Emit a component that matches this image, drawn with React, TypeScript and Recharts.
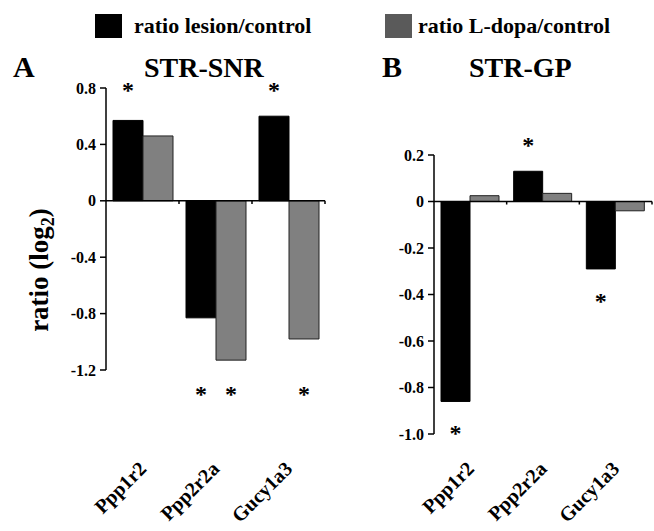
import { Bar, BarChart, LabelList, ReferenceLine, XAxis, YAxis } from "recharts";

const FONT = "'Liberation Serif', 'Times New Roman', serif";
const TEXT_STYLE = { fontFamily: FONT, fontWeight: 700 };

// log2 ratios
const genes = ["Ppp1r2", "Ppp2r2a", "Gucy1a3"];
const snrLesion = [0.57, -0.83, 0.6];
const snrLdopa = [0.46, -1.13, -0.98];
const snrLesionSig = [true, true, true];
const snrLdopaSig = [false, true, true];
const gpLesion = [-0.86, 0.13, -0.29];
const gpLdopa = [0.025, 0.035, -0.04];
const gpLesionSig = [true, true, true];
const gpLdopaSig = [false, false, false];
const snrTicks = [0.8, 0.4, 0, -0.4, -0.8, -1.2];
const gpTicks = [0.2, 0, -0.2, -0.4, -0.6, -0.8, -1.0];
const edges = [1, 2, 3];

const LABEL_Y = 470;

type PanelProps = {
  lesion: number[];
  ldopa: number[];
  lesionSig: boolean[];
  ldopaSig: boolean[];
  ticks: number[];
  width: number;
  top: number;
  bottom: number;
  right: number;
  axisWidth: number;
  markDepth: number;
  fixedStars: boolean;
};

function fmtTick(v: number) {
  return v === 0 ? "0" : v.toFixed(1);
}

function GeneTick(props: any) {
  const { x, payload } = props;
  const ax = x + 5;
  return (
    <text
      x={ax}
      y={LABEL_Y}
      transform={`rotate(-45 ${ax} ${LABEL_Y})`}
      textAnchor="end"
      fontSize={20}
      fill="#000"
      style={TEXT_STYLE}
    >
      {payload.value}
    </text>
  );
}

/** Asterisque de significativité, au-dessus ou au-dessous de la barre. */
function Star(props: any) {
  const { x, y, width, height, value, index, values, fixed, top, bottom } = props;
  if (!value) return null;
  const v = values[index];
  const cx = x + width / 2;
  const hi = Math.min(y, y + height);
  const lo = Math.max(y, y + height);
  let cy: number;
  if (fixed) cy = v >= 0 ? top - 2 : bottom + 20;
  else cy = v >= 0 ? hi - 30 : lo + 28;
  return (
    <text x={cx} y={cy + 12} textAnchor="middle" fontSize={24} fill="#000" style={TEXT_STYLE}>
      *
    </text>
  );
}

function Panel(p: PanelProps) {
  const rows = genes.map((gene, i) => ({
    gene,
    pos: i + 0.5,
    lesion: p.lesion[i],
    ldopa: p.ldopa[i],
    lesionSig: p.lesionSig[i] ? "*" : "",
    ldopaSig: p.ldopaSig[i] ? "*" : "",
  }));
  const lo = p.ticks[p.ticks.length - 1];
  const hi = p.ticks[0];
  const plotBottom = 531 - p.bottom;

  return (
    <BarChart
      width={p.width}
      height={531}
      data={rows}
      margin={{ top: p.top, right: p.right, bottom: 0, left: 0 }}
      barCategoryGap={7}
      barGap={0}
      style={{ fontFamily: FONT }}
    >
      <XAxis
        dataKey="gene"
        height={p.bottom}
        axisLine={false}
        tickLine={false}
        interval={0}
        tick={<GeneTick />}
      />
      <XAxis
        xAxisId="edge"
        dataKey="pos"
        type="number"
        domain={[0, 3]}
        allowDataOverflow
        hide
      />
      <YAxis
        domain={[lo, hi]}
        ticks={p.ticks}
        interval={0}
        allowDataOverflow
        width={p.axisWidth}
        tickSize={6}
        tickMargin={4}
        tickFormatter={fmtTick}
        axisLine={{ stroke: "#000", strokeWidth: 1.5 }}
        tickLine={{ stroke: "#000", strokeWidth: 1.5 }}
        tick={{ fill: "#000", fontSize: 16, style: TEXT_STYLE }}
      />
      <Bar dataKey="lesion" fill="#000" stroke="#000" strokeWidth={1} isAnimationActive={false}>
        <LabelList
          dataKey="lesionSig"
          content={<Star values={p.lesion} fixed={p.fixedStars} top={p.top} bottom={plotBottom} />}
        />
      </Bar>
      <Bar dataKey="ldopa" fill="#808080" stroke="#222" strokeWidth={1} isAnimationActive={false}>
        <LabelList
          dataKey="ldopaSig"
          content={<Star values={p.ldopa} fixed={p.fixedStars} top={p.top} bottom={plotBottom} />}
        />
      </Bar>
      <ReferenceLine y={0} stroke="#000" strokeWidth={1.5} />
      {edges.map((e) => (
        <ReferenceLine
          key={e}
          xAxisId="edge"
          segment={[
            { x: e, y: 0 },
            { x: e, y: -p.markDepth },
          ]}
          stroke="#000"
          strokeWidth={1.5}
        />
      ))}
    </BarChart>
  );
}

export default function App() {
  return (
    <div
      style={{
        position: "absolute",
        left: 0,
        top: 0,
        width: 654,
        height: 531,
        background: "#fff",
        overflow: "hidden",
        fontFamily: FONT,
      }}
    >
      <div style={{ position: "absolute", left: 0, top: 0 }}>
        <Panel
          lesion={snrLesion}
          ldopa={snrLdopa}
          lesionSig={snrLesionSig}
          ldopaSig={snrLdopaSig}
          ticks={snrTicks}
          width={330}
          top={88}
          bottom={161}
          right={5}
          axisWidth={106}
          markDepth={0.022}
          fixedStars
        />
      </div>
      <div style={{ position: "absolute", left: 330, top: 0 }}>
        <Panel
          lesion={gpLesion}
          ldopa={gpLdopa}
          lesionSig={gpLesionSig}
          ldopaSig={gpLdopaSig}
          ticks={gpTicks}
          width={324}
          top={155}
          bottom={97}
          right={2}
          axisWidth={104}
          markDepth={0.013}
          fixedStars={false}
        />
      </div>

      {/* Légende, lettres et titres des panneaux */}
      <svg
        width={654}
        height={531}
        style={{ position: "absolute", left: 0, top: 0, pointerEvents: "none", ...TEXT_STYLE }}
        fill="#000"
      >
        <rect x={95} y={14} width={27} height={24} fill="#000" />
        <text x={134} y={33} fontSize={22}>ratio lesion/control</text>
        <rect x={385} y={14} width={27} height={24} fill="#5a5a5a" />
        <text x={418} y={33} fontSize={22}>ratio L-dopa/control</text>

        <text x={13} y={77} fontSize={30}>A</text>
        <text x={144} y={77} fontSize={28}>STR-SNR</text>
        <text x={382} y={77} fontSize={30}>B</text>
        <text x={469} y={77} fontSize={28}>STR-GP</text>

        <text x={48} y={270} fontSize={27} textAnchor="middle" transform="rotate(-90 48 270)">
          ratio (log
          <tspan fontSize={18} dy={6}>2</tspan>
          <tspan dy={-6}>)</tspan>
        </text>
      </svg>
    </div>
  );
}
